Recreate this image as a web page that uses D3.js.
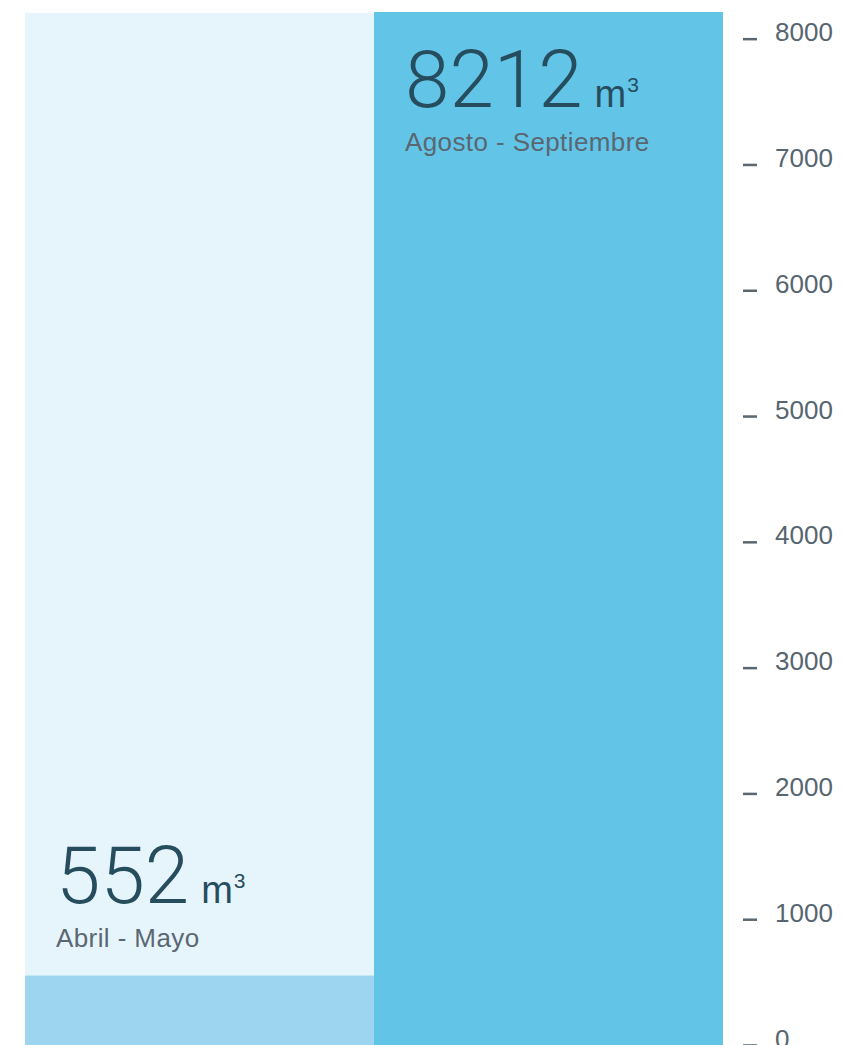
<!DOCTYPE html>
<html>
<head>
<meta charset="utf-8">
<script src="https://cdn.jsdelivr.net/npm/d3@7"></script>
<style>
  html, body { margin: 0; padding: 0; background: #fff; }
  svg { display: block; }
</style>
</head>
<body>
<svg id="chart" width="842" height="1045"></svg>
<script>
const categories = ["Abril - Mayo", "Agosto - Septiembre"];
const values = [552, 8212];
const unit = "m";
const tickValues = [0, 1000, 2000, 3000, 4000, 5000, 6000, 7000, 8000];

const W = 842, H = 1045;
const svg = d3.select("#chart");

const x = d3.scaleBand().domain(categories).range([25, 723]).padding(0);
const y = d3.scaleLinear().domain([0, d3.max(values)]).range([H, 12]);

const barColors = ["#9dd5f0", "#62c5e8"];
const bgColor = "#e6f5fc";

const data = categories.map((c, i) => ({ cat: c, value: values[i], color: barColors[i] }));

// column backgrounds
svg.append("g").selectAll("rect").data(data).join("rect")
  .attr("x", d => x(d.cat))
  .attr("width", x.bandwidth())
  .attr("y", y(d3.max(values)) + 1)
  .attr("height", H - y(d3.max(values)) - 1)
  .attr("fill", bgColor);

// bars
svg.append("g").selectAll("rect").data(data).join("rect")
  .attr("x", d => x(d.cat))
  .attr("width", x.bandwidth())
  .attr("y", d => y(d.value))
  .attr("height", d => H - y(d.value))
  .attr("fill", d => d.color);

// labels
const lab = svg.append("g").selectAll("g").data(data).join("g")
  .attr("transform", d => {
    const top = y(d.value);
    const inside = (H - top) > 200;
    const base = inside ? top + 95 : top - 73;
    return `translate(${x(d.cat) + 31},${base})`;
  });

const num = lab.append("text")
  .attr("fill", "#264d5e");
num.append("tspan")
  .attr("font-family", "Roboto, 'Liberation Sans', sans-serif")
  .attr("font-weight", 300)
  .attr("font-size", 80)
  .text(d => d.value);
num.append("tspan")
  .attr("dx", 12)
  .attr("font-family", "'Liberation Sans', Arial, sans-serif")
  .attr("font-size", 38)
  .text(unit);
num.append("tspan")
  .attr("dx", 1)
  .attr("dy", -15)
  .attr("font-family", "'Liberation Sans', Arial, sans-serif")
  .attr("font-size", 21)
  .text("3");

lab.append("text")
  .attr("y", 44)
  .attr("x", 0)
  .attr("fill", "#5b6770")
  .attr("font-family", "'Liberation Sans', Arial, sans-serif")
  .attr("font-size", 26)
  .attr("letter-spacing", 0.4)
  .text(d => d.cat);

// axis
const axis = d3.axisRight(y).tickValues(tickValues).tickSize(0).tickPadding(0).tickFormat(d3.format("d"));
const ag = svg.append("g").attr("transform", "translate(743,0)").call(axis);
ag.select(".domain").remove();
ag.selectAll(".tick line")
  .attr("x1", 0).attr("x2", 14)
  .attr("stroke", "#5a6670")
  .attr("stroke-width", 2.5);
ag.selectAll(".tick text")
  .attr("x", 32)
  .attr("dy", 2)
  .attr("fill", "#56656f")
  .attr("font-family", "'Liberation Sans', Arial, sans-serif")
  .attr("font-size", 26)
  .attr("text-anchor", "start");
</script>
</body>
</html>
